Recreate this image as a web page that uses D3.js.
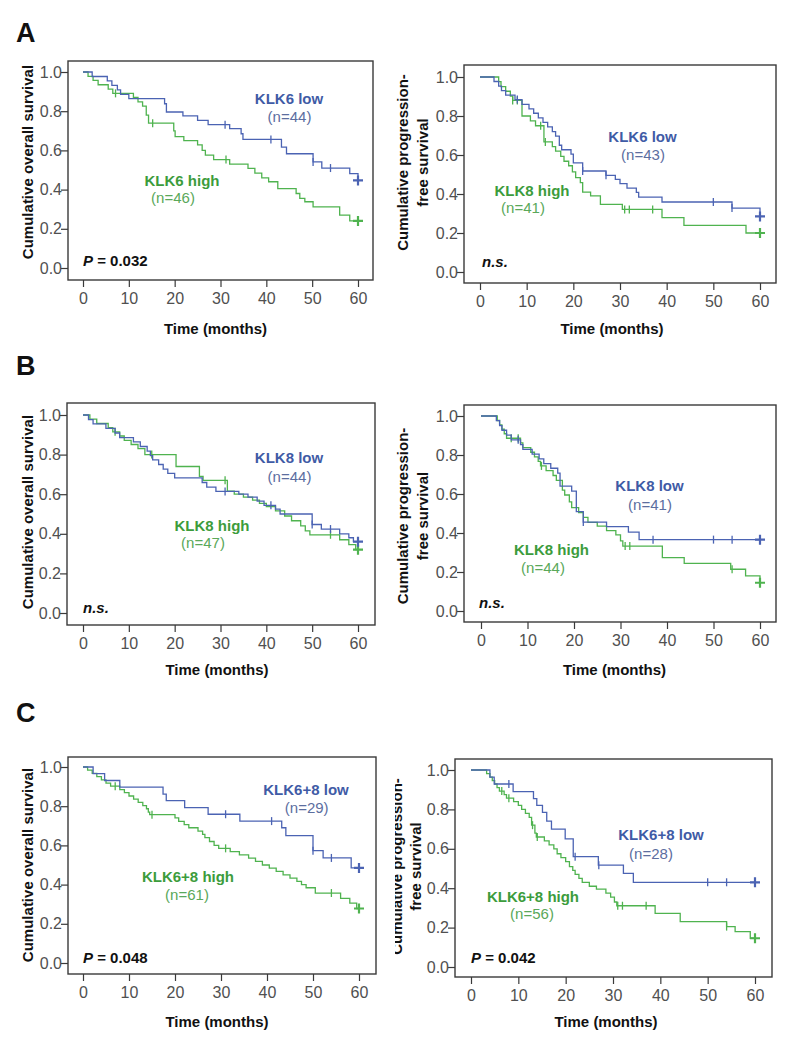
<!DOCTYPE html>
<html><head><meta charset="utf-8">
<script src="https://cdn.jsdelivr.net/npm/d3@7"></script>
<style>
body{margin:0;background:#fff}
svg{display:block}
text{font-family:"Liberation Sans",Arial,Helvetica,sans-serif}
</style>
</head><body>
<svg id="chart" width="791" height="1050"></svg>
<script>
// ---------- tick values ----------
const monthTicks = [0, 10, 20, 30, 40, 50, 60];
const survTicks = [0.0, 0.2, 0.4, 0.6, 0.8, 1.0];

// ---------- A: KLK6, overall survival ----------
const aOsLow = [[2,0.977],[5.3,0.955],[6.3,0.932],[7.5,0.909],[8.2,0.886],[10,0.864],[17.8,0.838],[18.2,0.796],[21.8,0.776],[25,0.753],[27.3,0.731],[32,0.711],[34.5,0.685],[34.9,0.656],[43.3,0.617],[44.4,0.583],[50.2,0.541],[52.1,0.51],[58.2,0.481],[60,0.447]];
const aOsLowCens = [31, 41, 50.2, 54, 60];
const aOsHigh = [[1.1,0.978],[2.2,0.957],[3.3,0.935],[5.5,0.913],[6.5,0.891],[11,0.87],[12,0.848],[13,0.826],[13.8,0.78],[14.3,0.739],[19.8,0.7],[20.1,0.67],[22,0.65],[25,0.628],[26,0.6],[26.7,0.576],[28.5,0.553],[32,0.53],[36,0.508],[37.5,0.484],[39,0.46],[40.5,0.44],[42.5,0.405],[46.5,0.38],[47.3,0.355],[48.4,0.338],[50.2,0.312],[56,0.27],[58.2,0.24]];
const aOsHighCens = [7.1, 15.2, 31.2, 60];

// ---------- A: KLK6, progression-free survival ----------
const aPfsLow = [[3,0.977],[4,0.953],[4.6,0.93],[5.5,0.907],[7.5,0.884],[9,0.86],[10.5,0.837],[11.5,0.814],[12.5,0.79],[13.5,0.767],[14.5,0.744],[15.5,0.72],[16.2,0.697],[17,0.65],[17.5,0.627],[19.5,0.605],[20,0.56],[22,0.518],[27,0.496],[29,0.475],[30,0.453],[31.5,0.43],[33.5,0.408],[34,0.384],[39,0.359],[54,0.328],[60,0.285]];
const aPfsLowCens = [8, 22, 27, 50, 54, 60];
const aPfsHigh = [[4,0.976],[4.5,0.951],[5.5,0.927],[6.5,0.902],[7,0.88],[9,0.8],[10.8,0.775],[11.9,0.75],[13.7,0.667],[15.5,0.643],[16.2,0.62],[17.3,0.593],[18,0.568],[19,0.545],[19.8,0.513],[20.5,0.484],[21.5,0.458],[22,0.41],[23.7,0.39],[25.8,0.347],[30.5,0.321],[39,0.279],[43.7,0.239],[57,0.2]];
const aPfsHighCens = [7, 8, 13, 14, 31, 32, 37, 60];

// ---------- B: KLK8, overall survival ----------
const bOsLow = [[1.2,0.977],[2.2,0.955],[5,0.932],[7,0.909],[8,0.886],[11,0.864],[12.5,0.841],[14,0.818],[14.7,0.795],[15.2,0.773],[16.5,0.75],[17.5,0.727],[18.5,0.705],[20,0.682],[26,0.659],[27,0.636],[29,0.614],[34,0.6],[36,0.585],[38,0.565],[39.5,0.544],[42,0.525],[43,0.5],[50,0.447],[52,0.424],[56,0.4],[58,0.38],[59,0.36]];
const bOsLowCens = [31, 41, 50, 54, 60];
const bOsHigh = [[1.5,0.979],[3,0.957],[5.5,0.936],[6.5,0.915],[8,0.894],[9,0.872],[10.5,0.851],[12,0.83],[13.5,0.8],[20.3,0.74],[25.4,0.69],[26.2,0.67],[31.5,0.615],[33,0.6],[35,0.585],[37,0.57],[38.5,0.554],[40,0.538],[42,0.516],[44,0.49],[45.5,0.466],[47.5,0.44],[48.5,0.415],[49.5,0.395],[56,0.37],[58,0.345],[59.5,0.32]];
const bOsHighCens = [7, 15, 31, 54, 60];

// ---------- B: KLK8, progression-free survival ----------
const bPfsLow = [[3.3,0.976],[4,0.951],[4.5,0.927],[5.5,0.902],[6.5,0.878],[8.5,0.853],[9,0.829],[11,0.805],[12.5,0.78],[13.5,0.756],[15,0.732],[16.5,0.707],[17,0.64],[19.5,0.615],[20.5,0.51],[22,0.456],[27,0.433],[31.7,0.405],[34,0.366]];
const bPfsLowCens = [8, 22, 37, 50, 54, 60];
const bPfsHigh = [[3.5,0.977],[4,0.955],[4.5,0.932],[5,0.909],[5.5,0.886],[8.5,0.862],[9,0.838],[10.7,0.814],[11.5,0.79],[12.3,0.767],[12.8,0.744],[14,0.72],[15.5,0.695],[16.2,0.67],[17.5,0.62],[18,0.595],[19,0.56],[19.5,0.53],[21,0.505],[22,0.48],[23,0.455],[25,0.435],[27,0.412],[29,0.39],[30,0.36],[30.5,0.333],[39,0.274],[43.7,0.244],[53.7,0.214],[56.9,0.18],[60,0.145]];
const bPfsHighCens = [6.5, 8, 13, 31, 32, 54, 60];

// ---------- C: KLK6+8, overall survival ----------
const cOsLow = [[2.2,0.966],[4.7,0.931],[8,0.897],[17.4,0.862],[18.1,0.828],[22.1,0.793],[27.2,0.759],[34.1,0.724],[43.2,0.69],[44.1,0.65],[50,0.573],[52.2,0.536],[58.3,0.485]];
const cOsLowCens = [31, 41, 50, 54, 60];
const cOsHigh = [[1,0.984],[2,0.967],[3,0.951],[4,0.934],[5,0.918],[6,0.902],[8,0.885],[9,0.869],[10,0.852],[11,0.836],[12,0.82],[13,0.803],[13.8,0.787],[14.2,0.77],[14.5,0.757],[20,0.74],[20.8,0.723],[22,0.706],[23,0.69],[25,0.673],[26,0.656],[26.5,0.64],[27.5,0.62],[28.5,0.6],[29.5,0.585],[32,0.568],[34,0.552],[36,0.535],[37.5,0.518],[39,0.5],[40.5,0.484],[42,0.467],[43.5,0.45],[45,0.433],[46.5,0.416],[47.5,0.4],[48.5,0.384],[50.5,0.357],[56,0.33],[58,0.305],[59.5,0.278]];
const cOsHighCens = [7, 15, 31, 54, 60];

// ---------- C: KLK6+8, progression-free survival ----------
const cPfsLow = [[4,0.964],[4.9,0.929],[8.9,0.89],[13.2,0.855],[13.9,0.82],[15.1,0.785],[16,0.74],[17,0.7],[19.9,0.65],[21.6,0.56],[26.9,0.517],[32.2,0.475],[34.3,0.43]];
const cPfsLowCens = [8, 22, 27, 50, 54, 60];
const cPfsHigh = [[3.3,0.982],[4,0.964],[4.5,0.946],[5,0.929],[5.5,0.911],[6,0.893],[7,0.875],[7.5,0.857],[9,0.839],[10,0.82],[10.7,0.8],[11.5,0.78],[12.3,0.76],[12.8,0.72],[13.5,0.68],[13.8,0.66],[15.5,0.64],[16.5,0.62],[17.5,0.6],[18.2,0.575],[19,0.555],[20,0.535],[20.8,0.51],[21.5,0.49],[22,0.47],[22.8,0.45],[23.5,0.43],[25,0.41],[26.5,0.395],[28.5,0.375],[29.5,0.355],[30.3,0.33],[30.8,0.311],[38.9,0.272],[44.2,0.23],[54,0.205],[55.8,0.18],[59,0.146]];
const cPfsHighCens = [6.5, 8, 13, 14, 31, 32, 37, 54, 60];

// ---------- labels ----------
const panelLetters = ["A", "B", "C"];
const osLabel = ["Cumulative overall survival"];
const pfsLabel = ["Cumulative progression-", "free survival"];
const xTitle = "Time (months)";

// ---------- styles ----------
const BLUE_LINE = "#4b63b3", GREEN_LINE = "#4fb34f";
const BLUE_TXT = "#3f5ba6", BLUE_N = "#5c6e9f";
const GREEN_TXT = "#3c9c3c", GREEN_N = "#5aa85a";
const AXIS = "#3a3a3a", TICK_TXT = "#505050";

const panels = [
  {box:[68,61,373,280], xr:[83,358], yr:[268,72], ylab:osLabel, ylabX:[33], ylabY:162, xlab:[215.5,334],
   low:aOsLow, lowC:aOsLowCens, high:aOsHigh, highC:aOsHighCens,
   lowT:["KLK6 low","(n=44)"], lowP:[289,104,289.5,122], highT:["KLK6 high","(n=46)"], highP:[182,186,173,203],
   stat:["P","0.032"], statP:[83,266]},
  {box:[464,65,776,283], xr:[480,760], yr:[272,77], ylab:pfsLabel, ylabX:[408,428], ylabY:162.5, xlab:[612,334],
   low:aPfsLow, lowC:aPfsLowCens, high:aPfsHigh, highC:aPfsHighCens,
   lowT:["KLK6 low","(n=43)"], lowP:[642.5,142,643,160], highT:["KLK8 high","(n=41)"], highP:[532,196,523,213],
   stat:["n.s."], statP:[482,267]},
  {box:[67,403,375,625], xr:[83,358], yr:[613,415], ylab:osLabel, ylabX:[33], ylabY:512, xlab:[217,675],
   low:bOsLow, lowC:bOsLowCens, high:bOsHigh, highC:bOsHighCens,
   lowT:["KLK8 low","(n=44)"], lowP:[289,463,289.5,482], highT:["KLK8 high","(n=47)"], highP:[212,531,203,548],
   stat:["n.s."], statP:[83,613]},
  {box:[464,405,776,622], xr:[481,760], yr:[611,416], ylab:pfsLabel, ylabX:[408,428], ylabY:516, xlab:[614.5,675],
   low:bPfsLow, lowC:bPfsLowCens, high:bPfsHigh, highC:bPfsHighCens,
   lowT:["KLK8 low","(n=41)"], lowP:[649.5,491,650,510], highT:["KLK8 high","(n=44)"], highP:[551.5,555,543,573],
   stat:["n.s."], statP:[479,608]},
  {box:[68,757,376,974], xr:[83,359], yr:[963,767], ylab:osLabel, ylabX:[33], ylabY:865, xlab:[217,1027],
   low:cOsLow, lowC:cOsLowCens, high:cOsHigh, highC:cOsHighCens,
   lowT:["KLK6+8 low","(n=29)"], lowP:[306,795,306.7,813], highT:["KLK6+8 high","(n=61)"], highP:[188,882,187,900],
   stat:["P","0.048"], statP:[83,963]},
  {box:[455,759,772,977], xr:[471,755], yr:[967,770], ylab:pfsLabel, ylabX:[402,421], ylabY:866.5, xlab:[606,1027], clipLab:395,
   low:cPfsLow, lowC:cPfsLowCens, high:cPfsHigh, highC:cPfsHighCens,
   lowT:["KLK6+8 low","(n=28)"], lowP:[661,840,651,859], highT:["KLK6+8 high","(n=56)"], highP:[533,902,532,919],
   stat:["P","0.042"], statP:[471,963]}
];
const letterPos = [[16,42],[16,375],[16,722]];

const svg = d3.select("#chart");
svg.append("rect").attr("width",791).attr("height",1050).attr("fill","#fff");

// Panel letters
svg.selectAll("text.letter").data(panelLetters).enter().append("text")
  .attr("class","letter")
  .attr("x",(d,i)=>letterPos[i][0]).attr("y",(d,i)=>letterPos[i][1])
  .attr("font-size",27).attr("font-weight","bold").attr("fill","#111").text(d=>d);

function survAt(steps, t){
  let s = 1;
  for (const [ti, si] of steps){ if (ti <= t) s = si; else break; }
  return s;
}

svg.append("defs").append("clipPath").attr("id","labclip")
  .append("rect").attr("x",395).attr("y",0).attr("width",400).attr("height",1050);

panels.forEach((p) => {
  const [L,T,R,B] = p.box;
  const x = d3.scaleLinear().domain([0,60]).range(p.xr);
  const y = d3.scaleLinear().domain([0,1]).range(p.yr);
  const g = svg.append("g");

  // frame
  g.append("rect").attr("x",L).attr("y",T).attr("width",R-L).attr("height",B-T)
    .attr("fill","none").attr("stroke",AXIS).attr("stroke-width",1.4);

  // y axis (ticks outside the frame)
  const yAxis = d3.axisLeft(y).tickValues(survTicks).tickFormat(d3.format(".1f")).tickSize(7).tickPadding(-1);
  const ya = g.append("g").attr("transform",`translate(${L},0)`).call(yAxis);
  ya.select(".domain").remove();
  ya.selectAll(".tick line").attr("stroke",AXIS).attr("stroke-width",1.2);
  ya.selectAll(".tick text").attr("font-size",16).attr("fill",TICK_TXT)
    .attr("font-family","'Liberation Sans',Arial,sans-serif");

  // x axis
  const xAxis = d3.axisBottom(x).tickValues(monthTicks).tickSize(7).tickPadding(6);
  const xa = g.append("g").attr("transform",`translate(0,${B})`).call(xAxis);
  xa.select(".domain").remove();
  xa.selectAll(".tick line").attr("stroke",AXIS).attr("stroke-width",1.2);
  xa.selectAll(".tick text").attr("font-size",16).attr("fill",TICK_TXT)
    .attr("font-family","'Liberation Sans',Arial,sans-serif");

  // axis titles
  g.append("text").attr("x",p.xlab[0]).attr("y",p.xlab[1]).attr("text-anchor","middle")
    .attr("font-size",15).attr("font-weight","bold").attr("fill","#111").text(xTitle);
  const yl = g.append("g");
  if (p.clipLab) yl.attr("clip-path","url(#labclip)");
  p.ylab.forEach((line,i) => {
    yl.append("text").attr("transform",`translate(${p.ylabX[i]},${p.ylabY}) rotate(-90)`)
      .attr("text-anchor","middle").attr("font-size",15).attr("font-weight","bold")
      .attr("fill","#111").text(line);
  });

  // curves
  const line = d3.line().x(d=>x(d[0])).y(d=>y(d[1])).curve(d3.curveStepAfter);
  const drawCurve = (steps, cens, color) => {
    const last = steps[steps.length-1];
    const end = Math.max(last[0], d3.max(cens));
    const pts = [[0,1], ...steps, [end, last[1]]];
    g.append("path").attr("d", line(pts)).attr("fill","none")
      .attr("stroke",color).attr("stroke-width",1.3);
    g.selectAll(null).data(cens).enter().append("path")
      .attr("d", t => {
        const cx = x(t), cy = y(survAt(steps,t));
        const big = t >= 60;
        const h = big ? 5 : 4, w = big ? 5 : 0;
        return `M${cx},${cy-h}V${cy+h}` + (w ? `M${cx-w},${cy}H${cx+w}` : "");
      })
      .attr("stroke",color).attr("stroke-width", t => t >= 60 ? 2.2 : 1.3).attr("fill","none");
  };
  drawCurve(p.high, p.highC, GREEN_LINE);
  drawCurve(p.low, p.lowC, BLUE_LINE);

  // group labels
  g.append("text").attr("x",p.lowP[0]).attr("y",p.lowP[1]).attr("text-anchor","middle")
    .attr("font-size",15).attr("font-weight","bold").attr("fill",BLUE_TXT).text(p.lowT[0]);
  g.append("text").attr("x",p.lowP[2]).attr("y",p.lowP[3]).attr("text-anchor","middle")
    .attr("font-size",15).attr("fill",BLUE_N).text(p.lowT[1]);
  g.append("text").attr("x",p.highP[0]).attr("y",p.highP[1]).attr("text-anchor","middle")
    .attr("font-size",15).attr("font-weight","bold").attr("fill",GREEN_TXT).text(p.highT[0]);
  g.append("text").attr("x",p.highP[2]).attr("y",p.highP[3]).attr("text-anchor","middle")
    .attr("font-size",15).attr("fill",GREEN_N).text(p.highT[1]);

  // statistic
  const st = g.append("text").attr("x",p.statP[0]).attr("y",p.statP[1])
    .attr("font-size",15).attr("font-weight","bold").attr("fill","#111");
  if (p.stat.length === 2){
    st.append("tspan").attr("font-style","italic").text(p.stat[0]);
    st.append("tspan").text(" = " + p.stat[1]);
  } else {
    st.attr("font-style","italic").text(p.stat[0]);
  }
});
</script>
</body></html>
